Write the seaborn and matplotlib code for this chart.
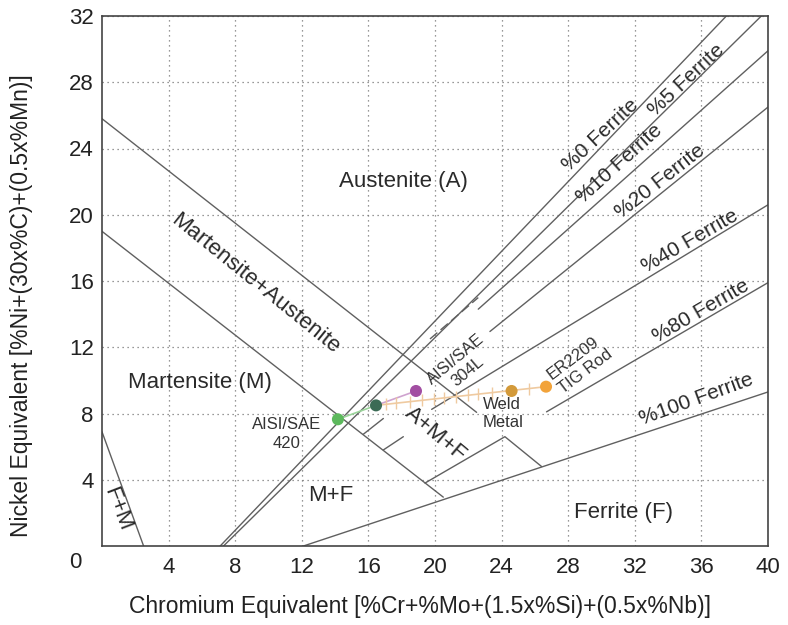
import numpy as np
import pandas as pd
import seaborn as sns
import matplotlib.pyplot as plt

# Schaeffler diagram boundaries (Cr_eq, Ni_eq)
upper_mart_x = [0, 22.5]
upper_mart_y = [25.8, 8.07]
lower_mart_x = [0, 20.5]
lower_mart_y = [19.0, 2.95]
fm_x = [0, 2.5]
fm_y = [6.9, 0]
fe0_x = [7.1, 37.5]
fe0_y = [0, 32]
fe5_x = [7.3, 39.6]
fe5_y = [0, 32]
fe10_x = [22.6, 40]
fe10_y = [14.3, 29.9]
fe20_x = [23.3, 40]
fe20_y = [12.95, 26.5]
fe40_x = [19.8, 40]
fe40_y = [8.25, 20.6]
fe80_x = [26.7, 40]
fe80_y = [8.1, 15.9]
fe100_x = [12.1, 40]
fe100_y = [0, 9.3]
amf_x = [19.4, 24.2, 26.4]
amf_y = [3.8, 6.6, 4.8]
stub1_x = [15.7, 16.9]
stub1_y = [6.75, 7.7]
stub2_x = [16.9, 18.1]
stub2_y = [5.8, 6.6]
dash_x = [19.7, 22.6]
dash_y = [12.5, 15.0]

# materials
materials = ["AISI/SAE 420", "Base mix", "AISI/SAE 304L", "Weld Metal", "ER2209 TIG Rod"]
cr_eq = [14.17, 16.46, 18.86, 24.6, 26.67]
ni_eq = [7.65, 8.49, 9.36, 9.36, 9.62]
point_colors = ["#5cb85c", "#3b6b55", "#a24ea2", "#d39a3a", "#f2a33a"]
# dilution marks along base mix -> filler line (fraction of filler)
dilution = [0.06, 0.12, 0.2, 0.27, 0.34, 0.4, 0.47, 0.54, 0.6, 0.68, 0.9]

sns.set_style("white")
plt.rcParams['font.family'] = ['Liberation Sans', 'DejaVu Sans']

fig = plt.figure(figsize=(7.88, 6.25), dpi=100)
ax = fig.add_axes([0.1294, 0.1264, 0.8452, 0.848])

lc = "#606060"
for xs, ys in [(upper_mart_x, upper_mart_y), (lower_mart_x, lower_mart_y), (fm_x, fm_y),
               (fe0_x, fe0_y), (fe5_x, fe5_y), (fe10_x, fe10_y), (fe20_x, fe20_y),
               (fe40_x, fe40_y), (fe80_x, fe80_y), (fe100_x, fe100_y), (amf_x, amf_y),
               (stub1_x, stub1_y), (stub2_x, stub2_y)]:
    ax.plot(xs, ys, color=lc, lw=1.0, zorder=2)
ax.plot(dash_x, dash_y, color=lc, lw=1.0, ls=(0, (7, 3)), zorder=2)

# tie lines between materials
ax.plot(cr_eq[0:2], ni_eq[0:2], color="#9ad49a", lw=1.2, zorder=3)
ax.plot(cr_eq[1:3], ni_eq[1:3], color="#cfa3cf", lw=1.2, zorder=3)
ax.plot([cr_eq[1], cr_eq[4]], [ni_eq[1], ni_eq[4]], color="#efcaa0", lw=1.2, zorder=3)
dil = pd.DataFrame({"f": dilution})
dil["x"] = cr_eq[1] + dil["f"] * (cr_eq[4] - cr_eq[1])
dil["y"] = ni_eq[1] + dil["f"] * (ni_eq[4] - ni_eq[1])
ax.scatter(dil["x"], dil["y"], marker="|", s=70, color="#efcaa0", lw=1.0, zorder=3)

pts = pd.DataFrame({"material": materials, "cr": cr_eq, "ni": ni_eq})
sns.scatterplot(data=pts, x="cr", y="ni", hue="material", palette=point_colors,
                s=75, edgecolor="none", legend=False, ax=ax, zorder=5)

ax.set_xlim(0, 40)
ax.set_ylim(0, 32)
ax.set_xticks(np.arange(4, 41, 4))
ax.set_yticks(np.arange(4, 33, 4))
ax.grid(True, ls=(0, (1, 3)), color="#777777", lw=0.9)
ax.tick_params(length=0, labelsize=16, colors="#222222")
ax.tick_params(axis="x", pad=8)
ax.tick_params(axis="y", pad=6)
for s in ax.spines.values():
    s.set_color("#444444")
    s.set_linewidth(1.2)
ax.text(-0.04, -0.032, "0", transform=ax.transAxes, ha="center", va="center",
        fontsize=16, color="#222222")

ax.set_xlabel("Chromium Equivalent [%Cr+%Mo+(1.5x%Si)+(0.5x%Nb)]", fontsize=16.5, color="#222222")
ax.set_ylabel("Nickel Equivalent [%Ni+(30x%C)+(0.5x%Mn)]", fontsize=16.5, color="#222222")
ax.xaxis.set_label_coords(0.477, -0.092)
ax.yaxis.set_label_coords(-0.104, 0.453)

tc = "#2a2a2a"
big = 16
ax.text(18.1, 22.0, "Austenite (A)", fontsize=big, ha="center", va="center", color=tc)
ax.text(9.2, 15.8, "Martensite+Austenite", fontsize=big, rotation=-39, ha="center", va="center", color=tc)
ax.text(5.9, 9.88, "Martensite (M)", fontsize=big, ha="center", va="center", color=tc)
ax.text(13.75, 3.07, "M+F", fontsize=big, ha="center", va="center", color=tc)
ax.text(0.9, 2.2, "F+M", fontsize=big, rotation=-69, ha="center", va="center", color=tc)
ax.text(20.06, 6.75, "A+M+F", fontsize=big, rotation=-40, ha="center", va="center", color=tc)
ax.text(31.35, 2.05, "Ferrite (F)", fontsize=big, ha="center", va="center", color=tc)

ax.text(29.97, 24.8, "%0 Ferrite", fontsize=15, rotation=43, ha="center", va="center", color=tc)
ax.text(35.1, 28.1, "%5 Ferrite", fontsize=15, rotation=43, ha="center", va="center", color=tc)
ax.text(31.1, 23.1, "%10 Ferrite", fontsize=15, rotation=42, ha="center", va="center", color=tc)
ax.text(33.5, 22.0, "%20 Ferrite", fontsize=15, rotation=38, ha="center", va="center", color=tc)
ax.text(35.3, 18.4, "%40 Ferrite", fontsize=15, rotation=30, ha="center", va="center", color=tc)
ax.text(36.0, 14.2, "%80 Ferrite", fontsize=15, rotation=30, ha="center", va="center", color=tc)
ax.text(35.7, 8.86, "%100 Ferrite", fontsize=15, rotation=20, ha="center", va="center", color=tc)

small = 12
ax.text(11.1, 6.75, "AISI/SAE\n420", fontsize=small, ha="center", va="center",
        multialignment="center", color="#333333", linespacing=1.3)
ax.text(21.6, 10.9, "AISI/SAE\n304L", fontsize=small, rotation=40, ha="center", va="center",
        multialignment="center", color="#333333", linespacing=1.2)
ax.text(28.7, 10.96, "ER2209\nTIG Rod", fontsize=small, rotation=37, ha="center", va="center",
        multialignment="left", color="#333333", linespacing=1.2)
ax.text(24.1, 8.0, "Weld\nMetal", fontsize=small, ha="center", va="center",
        multialignment="left", color="#333333", linespacing=1.3)

fig.savefig("out.png", dpi=100)
